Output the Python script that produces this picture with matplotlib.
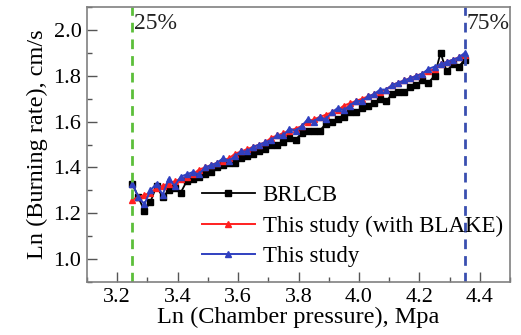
import matplotlib
matplotlib.use("Agg")
import matplotlib.pyplot as plt
from matplotlib.ticker import MultipleLocator

plt.rcParams['font.family'] = ['Liberation Serif', 'DejaVu Serif']

x = [3.25, 3.27, 3.29, 3.31, 3.33, 3.35, 3.37, 3.39, 3.41, 3.43, 3.45, 3.47, 3.49, 3.51,
     3.53, 3.55, 3.57, 3.59, 3.61, 3.63, 3.65, 3.67, 3.69, 3.71, 3.73, 3.75, 3.77, 3.79,
     3.81, 3.83, 3.85, 3.87, 3.89, 3.91, 3.93, 3.95, 3.97, 3.99, 4.01, 4.03, 4.05, 4.07,
     4.09, 4.11, 4.13, 4.15, 4.17, 4.19, 4.21, 4.23, 4.25, 4.27, 4.29, 4.31, 4.33, 4.35]

brlcb = [1.33, 1.27, 1.21, 1.25, 1.32, 1.27, 1.30, 1.31, 1.29, 1.34, 1.35, 1.36, 1.37, 1.38,
         1.40, 1.41, 1.42, 1.42, 1.44, 1.45, 1.46, 1.47, 1.48, 1.50, 1.50, 1.51, 1.53, 1.52,
         1.55, 1.56, 1.56, 1.56, 1.59, 1.60, 1.61, 1.62, 1.64, 1.64, 1.66, 1.67, 1.68, 1.70,
         1.69, 1.72, 1.73, 1.73, 1.75, 1.76, 1.78, 1.77, 1.80, 1.90, 1.82, 1.85, 1.84, 1.87]

blake = [1.26, 1.27, 1.28, 1.29, 1.31, 1.32, 1.33, 1.34, 1.35, 1.36, 1.37, 1.39, 1.40, 1.41,
         1.42, 1.43, 1.44, 1.46, 1.47, 1.48, 1.49, 1.50, 1.51, 1.53, 1.54, 1.55, 1.56, 1.57,
         1.58, 1.60, 1.61, 1.62, 1.63, 1.64, 1.65, 1.67, 1.68, 1.69, 1.70, 1.71, 1.72, 1.73,
         1.74, 1.76, 1.77, 1.78, 1.79, 1.80, 1.81, 1.82, 1.83, 1.85, 1.86, 1.87, 1.88, 1.89]

study = [1.33, 1.27, 1.24, 1.30, 1.33, 1.28, 1.35, 1.32, 1.36, 1.37, 1.38, 1.37, 1.40, 1.41,
         1.42, 1.44, 1.43, 1.45, 1.47, 1.47, 1.49, 1.50, 1.51, 1.52, 1.54, 1.54, 1.57, 1.56,
         1.58, 1.61, 1.60, 1.62, 1.61, 1.64, 1.66, 1.65, 1.67, 1.69, 1.69, 1.71, 1.72, 1.74,
         1.74, 1.76, 1.77, 1.78, 1.79, 1.80, 1.81, 1.83, 1.84, 1.85, 1.86, 1.87, 1.88, 1.90]

labels = ["BRLCB", "This study (with BLAKE)", "This study"]
limit_x = [3.25, 4.35]
limit_text = ["25%", "75%"]
xtick_vals = [3.2, 3.4, 3.6, 3.8, 4.0, 4.2, 4.4]
ytick_vals = [1.0, 1.2, 1.4, 1.6, 1.8, 2.0]

fig = plt.figure(figsize=(5.21, 3.35), dpi=100)
ax = fig.add_axes([0.167, 0.158, 0.812, 0.821])

ax.plot(x, brlcb, color='black', marker='s', markersize=5, linewidth=1.3, label=labels[0])
ax.plot(x, blake, color='#ff2020', marker='^', markersize=4.5, linewidth=1.4, label=labels[1])
ax.plot(x, study, color='#3040c0', marker='^', markersize=4.5, linewidth=1.4, label=labels[2])

ax.axvline(limit_x[0], color='#5cbf3a', linestyle=(0, (3.5, 2.5)), linewidth=2)
ax.axvline(limit_x[1], color='#3a4fb0', linestyle=(0, (3.5, 2.5)), linewidth=2)
ax.text(limit_x[0] + 0.005, 2.075, limit_text[0], fontsize=17, va='top', ha='left', color='#222222')
ax.text(limit_x[1] + 0.005, 2.075, limit_text[1], fontsize=17, va='top', ha='left', color='#222222')

ax.set_xlim(3.1, 4.5)
ax.set_ylim(0.9, 2.1)
ax.set_xticks(xtick_vals)
ax.set_xticklabels([f"{v:.1f}" for v in xtick_vals])
ax.set_yticks(ytick_vals)
ax.set_yticklabels([f"{v:.1f}" for v in ytick_vals])
ax.xaxis.set_minor_locator(MultipleLocator(0.1))
ax.yaxis.set_minor_locator(MultipleLocator(0.1))
ax.tick_params(which='major', direction='in', length=7, width=1, labelsize=16, color='#555555', pad=4)
ax.tick_params(which='minor', direction='in', length=3.5, width=1, color='#555555')
for s in ax.spines.values():
    s.set_color('#808080')
    s.set_linewidth(1.2)

ax.set_xlabel("Ln (Chamber pressure), Mpa", fontsize=17.5, labelpad=0)
ax.set_ylabel("Ln (Burning rate), cm/s", fontsize=17.5, labelpad=4)

ax.legend(loc='center left', bbox_to_anchor=(0.25, 0.204), frameon=False, fontsize=16.5,
          handlelength=2.3, handletextpad=0.35, labelspacing=0.4, borderaxespad=0.0)

fig.savefig("out.png", dpi=100)
